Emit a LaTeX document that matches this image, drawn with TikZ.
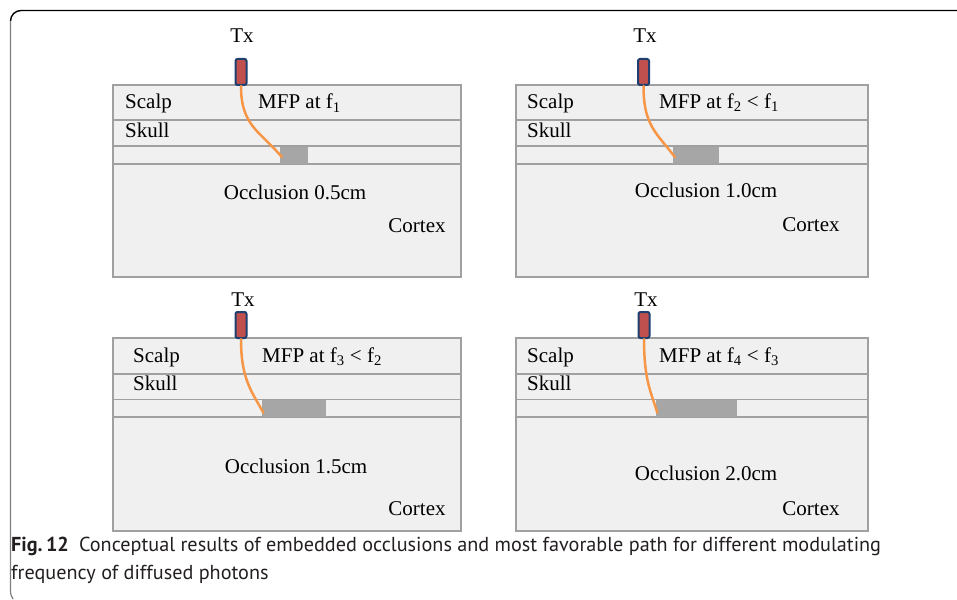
\documentclass[tikz,border=0pt]{standalone}
\usepackage{fontspec}
\setmainfont{Liberation Serif}
\newfontfamily\capfont{PT Sans}
\usetikzlibrary{calc}
\definecolor{panelfill}{HTML}{F0F0F0}
\definecolor{paneledge}{HTML}{A0A0A0}
\definecolor{occfill}{HTML}{A6A6A6}
\definecolor{probered}{HTML}{C0504D}
\definecolor{probeblue}{HTML}{1F3F6F}
\definecolor{pathorange}{HTML}{F79646}
\definecolor{captext}{HTML}{231F20}
\tikzset{
  panel/.style={fill=panelfill, draw=paneledge, line width=2pt},
  layer/.style={draw=paneledge, line width=1.6pt},
  probe/.style={rectangle, rounded corners=2pt, fill=probered, draw=probeblue,
    line width=2pt, minimum width=11pt, minimum height=26pt, inner sep=0pt},
  occ/.style={rectangle, fill=occfill, minimum height=17pt, inner sep=0pt},
  mfp/.style={draw=pathorange, line width=2.5pt, line cap=round},
  lbl/.style={inner sep=0pt, font=\fontsize{21}{25}\selectfont, text=black},
  captxt/.style={inner sep=0pt, font=\capfont\fontsize{20.2}{24}\selectfont, text=captext},
}
\begin{document}
\begin{tikzpicture}[x=1pt,y=-1pt]
\useasboundingbox (0,0) rectangle (957,599);
% figure frame
\draw[black, line width=1.4pt] (957,10.5) -- (21,10.5) arc[start angle=270, end angle=180, radius=10.5];
\draw[gray, line width=1.2pt] (10.5,21) -- (10.5,590) .. controls (10.5,594) and (11,596) .. (13,599);

% ---------- panel 1 ----------
\draw[panel] (113,85) rectangle (461,277);
\draw[layer] (113,120) -- (461,120);
\draw[layer] (113,146) -- (461,146);
\draw[layer] (113,164) -- (461,164);
\node[occ, minimum width=28pt] (occ1) at (294,155) {};
\node[probe] (tx1) at (241,72) {};
\node[lbl, anchor=base] (t1) at (242,43) {Tx};
\node[lbl, anchor=base west] (scalp1) at (125,109) {Scalp};
\node[lbl, anchor=base west] (mfp1) at (258,109) {MFP at f\textsubscript{1}};
\node[lbl, anchor=base west] (skull1) at (125,137) {Skull};
\node[lbl, anchor=base] (oc1) at (295,199) {Occlusion 0.5cm};
\node[lbl, anchor=base] (cx1) at (417,232) {Cortex};
\coordinate (e1) at ($(occ1.west)+(2,2)$);
\draw[mfp] (tx1.south) .. controls +(0,40) and +(-22,-26) .. (e1);

% ---------- panel 2 ----------
\draw[panel] (516,85) rectangle (868,277);
\draw[layer] (516,120) -- (868,120);
\draw[layer] (516,146) -- (868,146);
\draw[layer] (516,164) -- (868,164);
\node[occ, minimum width=46pt] (occ2) at (696,155) {};
\node[probe] (tx2) at (643.5,72) {};
\node[lbl, anchor=base] (t2) at (645,43) {Tx};
\node[lbl, anchor=base west] (scalp2) at (527,108) {Scalp};
\node[lbl, anchor=base west] (mfp2) at (659,108) {MFP at f\textsubscript{2} < f\textsubscript{1}};
\node[lbl, anchor=base west] (skull2) at (527,137) {Skull};
\node[lbl, anchor=base] (oc2) at (706,197) {Occlusion 1.0cm};
\node[lbl, anchor=base] (cx2) at (811,231) {Cortex};
\coordinate (e2) at ($(occ2.west)+(2,2)$);
\draw[mfp] (tx2.south) .. controls +(0,40) and +(-18,-24) .. (e2);

% ---------- panel 3 ----------
\draw[panel] (113,338) rectangle (461,531);
\draw[layer] (113,374) -- (461,374);
\draw[layer] (113,399.5) -- (461,399.5);
\draw[layer] (113,417) -- (461,417);
\node[occ, minimum width=64pt] (occ3) at (294,408) {};
\node[probe] (tx3) at (241,325) {};
\node[lbl, anchor=base] (t3) at (243,306) {Tx};
\node[lbl, anchor=base west] (scalp3) at (133,362) {Scalp};
\node[lbl, anchor=base west] (mfp3) at (262,362) {MFP at f\textsubscript{3} < f\textsubscript{2}};
\node[lbl, anchor=base west] (skull3) at (133,390) {Skull};
\node[lbl, anchor=base] (oc3) at (296,473) {Occlusion 1.5cm};
\node[lbl, anchor=base] (cx3) at (417,515) {Cortex};
\coordinate (e3) at ($(occ3.south west)+(1.5,-4)$);
\draw[mfp] (tx3.south) .. controls +(0,40) and +(-12,-22) .. (e3);

% ---------- panel 4 ----------
\draw[panel] (516,338) rectangle (868,531);
\draw[layer] (516,374) -- (868,374);
\draw[layer] (516,399.5) -- (868,399.5);
\draw[layer] (516,417) -- (868,417);
\node[occ, minimum width=81pt] (occ4) at (696.5,408) {};
\node[probe] (tx4) at (644,325) {};
\node[lbl, anchor=base] (t4) at (646,306) {Tx};
\node[lbl, anchor=base west] (scalp4) at (527,362) {Scalp};
\node[lbl, anchor=base west] (mfp4) at (659,362) {MFP at f\textsubscript{4} < f\textsubscript{3}};
\node[lbl, anchor=base west] (skull4) at (527,390) {Skull};
\node[lbl, anchor=base] (oc4) at (706,480) {Occlusion 2.0cm};
\node[lbl, anchor=base] (cx4) at (811,515) {Cortex};
\coordinate (e4) at ($(occ4.south west)+(1.5,-4)$);
\draw[mfp] (tx4.south) .. controls +(0,42) and +(-6,-20) .. (e4);

% ---------- caption ----------
\node[captxt, anchor=base west] (cap1) at (11,551)
  {\textbf{Fig.\,12}\hspace{0.5em}Conceptual results of embedded occlusions and most favorable path for different modulating};
\node[captxt, anchor=base west] (cap2) at (11,579) {frequency of diffused photons};
\end{tikzpicture}
\end{document}
